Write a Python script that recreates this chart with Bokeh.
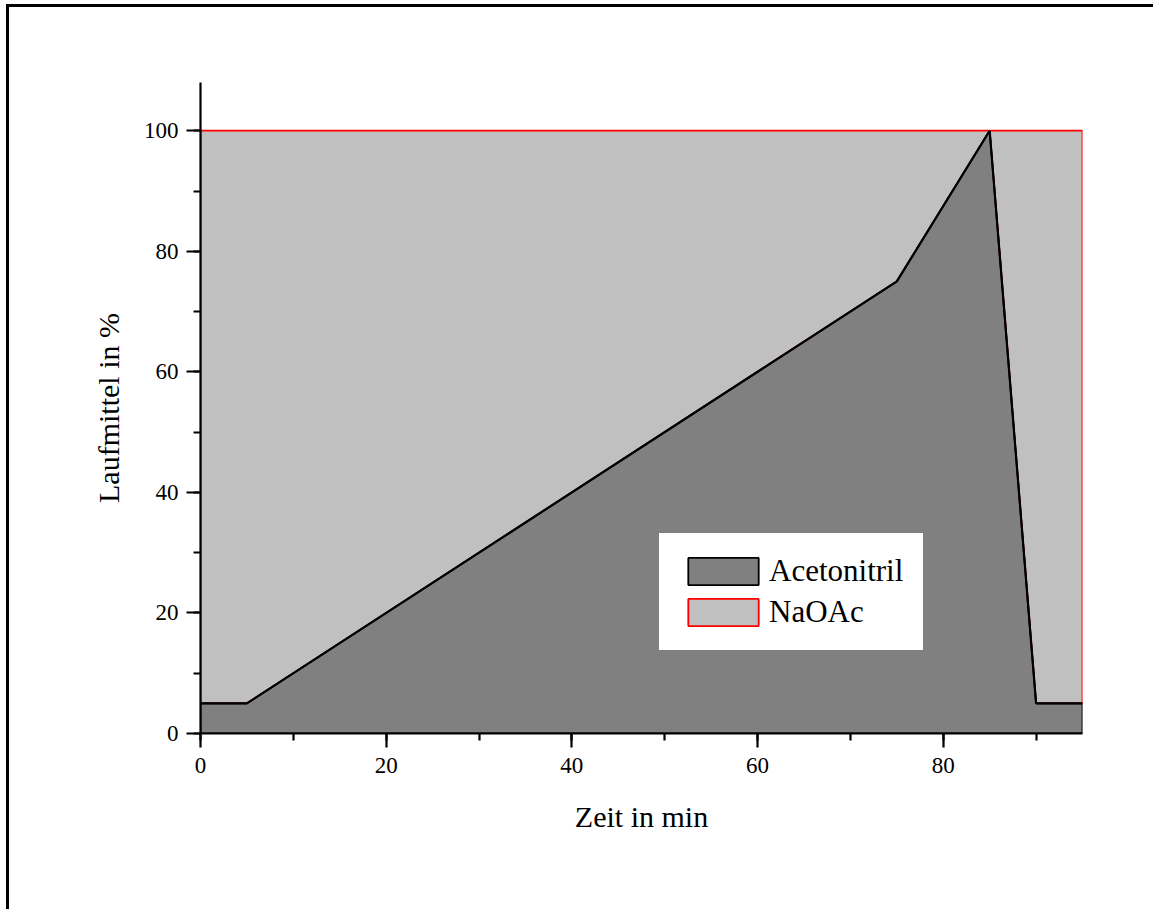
from bokeh.plotting import figure
from bokeh.models import (Legend, LegendItem, SingleIntervalTicker, Range1d)
from bokeh.embed import file_html
from bokeh.resources import INLINE

# data
time_min = [0, 5, 75, 85, 90, 95]
acetonitril = [5, 5, 75, 100, 5, 5]
naoac = [95, 95, 25, 0, 95, 95]
x_ticks = [0, 20, 40, 60, 80]
y_ticks = [0, 20, 40, 60, 80, 100]

FONT = "Liberation Serif"

p = figure(width=1153, height=909, output_backend="svg", toolbar_location=None,
           x_range=Range1d(0, 95), y_range=Range1d(0, 108),
           min_border_left=200, min_border_right=71, min_border_top=82,
           min_border_bottom=176)
p.outline_line_color = None
p.grid.visible = False
p.background_fill_color = "white"
p.border_fill_alpha = 0
# page frame: top and left lines around the graph page (drawn as inset shadows)
p.styles = {"box-shadow": "inset 6px 4px 0px 0px white, inset 9px 7px 0px 0px black",
            "background-color": "white"}

# NaOAc stacked on top of Acetonitril
top = [a + n for a, n in zip(acetonitril, naoac)]
nx = time_min + time_min[::-1]
ny = acetonitril + top[::-1]
r_na = p.patch(nx, ny, fill_color="#C0C0C0", line_color="#FF0000", line_width=1.8)

# Acetonitril area from 0
ax_ = [time_min[0]] + time_min + [time_min[-1]]
ay_ = [0] + acetonitril + [0]
r_ac = p.patch(ax_, ay_, fill_color="#808080", line_color="black", line_width=1.8)
# black boundary between the two areas drawn on top
p.line(time_min, acetonitril, line_color="black", line_width=2.2)

# axes
for ax in (p.xaxis[0], p.yaxis[0]):
    ax.ticker = SingleIntervalTicker(interval=20, num_minor_ticks=2)
    ax.axis_line_width = 2.2
    ax.major_tick_line_width = 2.2
    ax.minor_tick_line_width = 2.2
    ax.major_tick_out = 14
    ax.major_tick_in = 0
    ax.minor_tick_out = 7
    ax.minor_tick_in = 0
    ax.major_label_text_font = FONT
    ax.major_label_text_font_size = "23px"
    ax.major_label_text_color = "black"
    ax.axis_label_text_font = FONT
    ax.axis_label_text_font_size = "30px"
    ax.axis_label_text_font_style = "normal"
    ax.axis_label_text_color = "black"

p.xaxis.axis_label = "Zeit in min"
p.yaxis.axis_label = "Laufmittel in %"
p.xaxis.major_label_standoff = 10
p.yaxis.major_label_standoff = 8
p.xaxis.axis_label_standoff = 24
p.yaxis.axis_label_standoff = 16

legend = Legend(items=[LegendItem(label="Acetonitril", renderers=[r_ac]),
                       LegendItem(label="NaOAc", renderers=[r_na])],
                location=(458, 82), glyph_width=88, glyph_height=34,
                label_standoff=2, spacing=5, padding=20, margin=0,
                label_text_font=FONT, label_text_font_size="31px",
                label_text_color="black", label_height=34,
                border_line_color="black", border_line_width=1.5,
                background_fill_alpha=1.0)
p.add_layout(legend, "center")

open("out.html", "w").write(file_html(p, INLINE))
